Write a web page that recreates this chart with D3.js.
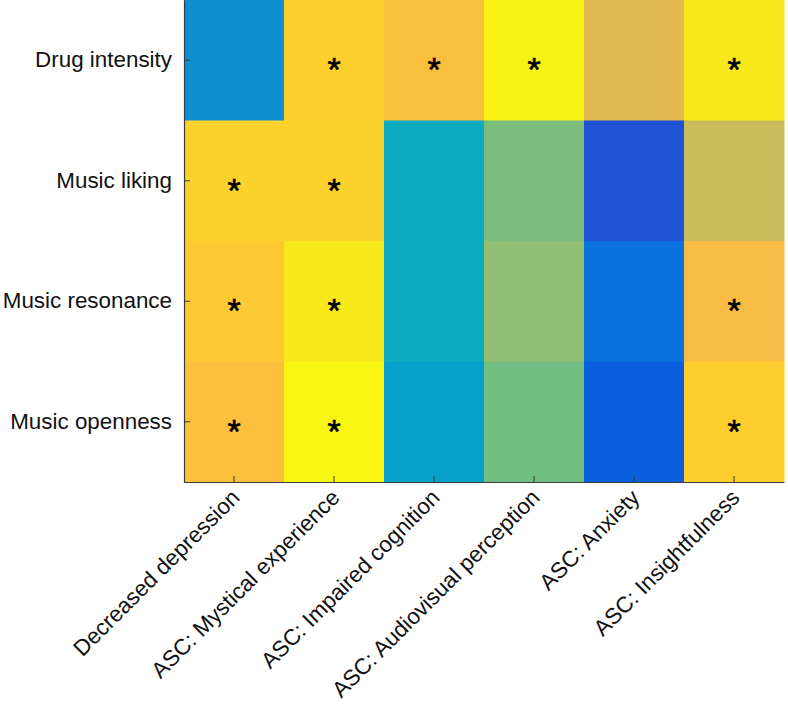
<!DOCTYPE html>
<html>
<head>
<meta charset="utf-8">
<script src="https://cdn.jsdelivr.net/npm/d3@7"></script>
<style>
  html, body { margin: 0; padding: 0; background: #fff; }
  svg { display: block; font-family: "Liberation Sans", Arial, Helvetica, sans-serif; }
</style>
</head>
<body>
<svg id="chart" width="788" height="715"></svg>
<script>
// ---- data ----
const rowLabels = ["Drug intensity", "Music liking", "Music resonance", "Music openness"];
const colLabels = ["Decreased depression", "ASC: Mystical experience", "ASC: Impaired cognition",
                   "ASC: Audiovisual perception", "ASC: Anxiety", "ASC: Insightfulness"];
// normalized colour values (0..1 on the parula map)
const drugIntensity  = [0.29, 0.893, 0.84, 0.98, 0.78, 0.96];
const musicLiking    = [0.897, 0.897, 0.405, 0.603, 0.095, 0.73];
const musicResonance = [0.872, 0.96, 0.405, 0.635, 0.175, 0.825];
const musicOpenness  = [0.845, 0.99, 0.35, 0.587, 0.12, 0.89];
// significance markers (1 = asterisk)
const sigDrug      = [0, 1, 1, 1, 0, 1];
const sigLiking    = [1, 1, 0, 0, 0, 0];
const sigResonance = [1, 1, 0, 0, 0, 1];
const sigOpenness  = [1, 1, 0, 0, 0, 1];

const values = [drugIntensity, musicLiking, musicResonance, musicOpenness];
const sigs = [sigDrug, sigLiking, sigResonance, sigOpenness];

// parula colormap anchors (index into 64-entry map)
const parulaIdx = [1, 5, 7, 9, 13, 17, 21, 25, 29, 33, 37, 41, 45, 49, 53, 55, 57, 61, 64];
const parulaHex = ["#352a87", "#3243ba", "#2053d4", "#0363e1", "#0d75dc", "#1485d4", "#0998d1",
                   "#06a7c6", "#15b1b4", "#38b99e", "#65be86", "#92bf73", "#b7bd64", "#d9ba56",
                   "#f8bb44", "#ffc337", "#fcce2e", "#f5e41d", "#f9fb0e"];

// ---- layout ----
const svg = d3.select("#chart");
const margin = { left: 184, top: 0, right: 4, bottom: 233 };
const W = 788 - margin.left - margin.right;
const H = 715 - margin.top - margin.bottom;

const x = d3.scaleBand().domain(colLabels).range([0, W]).padding(0);
const y = d3.scaleBand().domain(rowLabels).range([0, H]).padding(0);
const color = d3.scaleLinear()
  .domain(parulaIdx.map(i => (i - 1) / 63))
  .range(parulaHex)
  .interpolate(d3.interpolateRgb)
  .clamp(true);

const g = svg.append("g").attr("transform", `translate(${margin.left},${margin.top})`);

const cells = [];
rowLabels.forEach((r, ri) => colLabels.forEach((c, ci) => {
  cells.push({ r, c, v: values[ri][ci], s: sigs[ri][ci] });
}));

g.selectAll("rect.cell").data(cells).join("rect")
  .attr("class", "cell")
  .attr("x", d => x(d.c))
  .attr("y", d => y(d.r))
  .attr("width", x.bandwidth() + 0.5)
  .attr("height", y.bandwidth() + 0.5)
  .attr("fill", d => color(d.v));

const starSize = 34;
g.selectAll("text.star").data(cells.filter(d => d.s)).join("text")
  .attr("class", "star")
  .attr("x", d => x(d.c) + x.bandwidth() / 2)
  .attr("y", d => y(d.r) + y.bandwidth() / 2 + starSize * 0.56 + 2)
  .attr("text-anchor", "middle")
  .attr("font-size", starSize)
  .attr("fill", "#000")
  .attr("stroke", "#000")
  .attr("stroke-width", 0.6)
  .text("*");

const axisColor = "#3a3a3a";
const fontSize = 22.4;
const yAxis = g.append("g")
  .call(d3.axisLeft(y).tickSizeInner(-6).tickSizeOuter(0).tickPadding(12));
yAxis.select(".domain").attr("stroke", axisColor).attr("stroke-width", 1.2);
yAxis.selectAll(".tick line").attr("stroke", axisColor);
yAxis.selectAll(".tick text").attr("font-size", fontSize).attr("fill", "#111")
  .attr("font-family", "Liberation Sans, Arial, sans-serif");

const xAxis = g.append("g").attr("transform", `translate(0,${H})`)
  .call(d3.axisBottom(x).tickSizeInner(-6).tickSizeOuter(0).tickPadding(0));
xAxis.select(".domain").attr("stroke", axisColor).attr("stroke-width", 1.2);
xAxis.selectAll(".tick line").attr("stroke", axisColor);
xAxis.selectAll(".tick text")
  .attr("font-size", fontSize).attr("fill", "#111")
  .attr("font-family", "Liberation Sans, Arial, sans-serif")
  .attr("text-anchor", "end")
  .attr("dy", null)
  .attr("y", 0)
  .attr("transform", "translate(7,17) rotate(-45)");
</script>
</body>
</html>
